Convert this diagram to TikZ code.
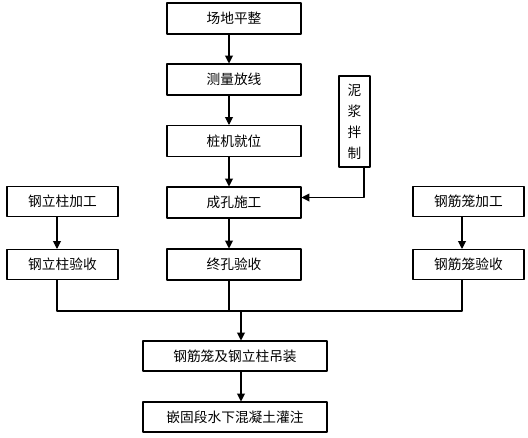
\documentclass[tikz,border=0pt]{standalone}
\usepackage{fontspec}
\newfontfamily\cjk{Noto Sans CJK SC}
\usetikzlibrary{arrows.meta}
\tikzset{
  box/.style={draw, line width=0.6pt, inner sep=0pt, minimum width=2.68cm, minimum height=0.62cm},
  sidebox/.style={box, minimum width=2.22cm, minimum height=0.6cm},
  widebox/.style={box, minimum width=3.68cm, minimum height=0.6cm},
  link/.style={line width=0.6pt},
}
\begin{document}
\begin{tikzpicture}[x=0.02cm, y=-0.02cm, font=\cjk\fontsize{7.8}{9}\selectfont, line join=round, >={Triangle[length=4.5pt,width=4.5pt]}]
	\useasboundingbox (0,0) rectangle (528,437);
	% main column
	\node[box] (site) at (234,18.5) {场地平整};
	\node[box] (survey) at (234,79.5) {测量放线};
	\node[box] (rig) at (234,141) {桩机就位};
	\node[box] (bore) at (234,202.5) {成孔施工};
	\node[box] (final) at (234,264.5) {终孔验收};
	\node[draw, line width=0.6pt, inner sep=0pt, minimum width=0.62cm, minimum height=1.82cm, align=center,
		font=\cjk\fontsize{7.8}{12}\selectfont] (mud) at (354.5,121.5) {泥\\浆\\拌\\制};
	% side columns
	\node[sidebox] (colmake) at (62.5,201.5) {钢立柱加工};
	\node[sidebox] (colcheck) at (62.5,264.5) {钢立柱验收};
	\node[sidebox] (cagemake) at (468.5,201.5) {钢筋笼加工};
	\node[sidebox] (cagecheck) at (468.5,264.5) {钢筋笼验收};
	% bottom
	\node[widebox] (lift) at (235,356) {钢筋笼及钢立柱吊装};
	\node[widebox] (pour) at (235,417) {嵌固段水下混凝土灌注};
	\coordinate (merge) at (241,311);
	% arrows
	\draw[link,->] ([xshift=-0.1cm]site.south) -- ([xshift=-0.1cm]survey.north);
	\draw[link,->] ([xshift=-0.1cm]survey.south) -- ([xshift=-0.1cm]rig.north);
	\draw[link,->] ([xshift=-0.1cm]rig.south) -- ([xshift=-0.1cm]bore.north);
	\draw[link,->] ([xshift=-0.1cm]bore.south) -- ([xshift=-0.1cm]final.north);
	\draw[link,->] ([xshift=0.19cm]mud.south) |- ([yshift=0.1cm]bore.east);
	\draw[link,->] ([xshift=-0.11cm]colmake.south) -- ([xshift=-0.11cm]colcheck.north);
	\draw[link,->] ([xshift=-0.13cm]cagemake.south) -- ([xshift=-0.13cm]cagecheck.north);
	\draw[link] ([xshift=-0.11cm]colcheck.south) |- (merge);
	\draw[link] ([xshift=-0.13cm]cagecheck.south) |- (merge);
	\draw[link] ([xshift=-0.1cm]final.south) -- ([xshift=-0.1cm]final.south |- merge);
	\draw[link,->] (merge) -- (lift.north -| merge);
	\draw[link,->] (lift.south -| merge) -- (pour.north -| merge);
\end{tikzpicture}
\end{document}
